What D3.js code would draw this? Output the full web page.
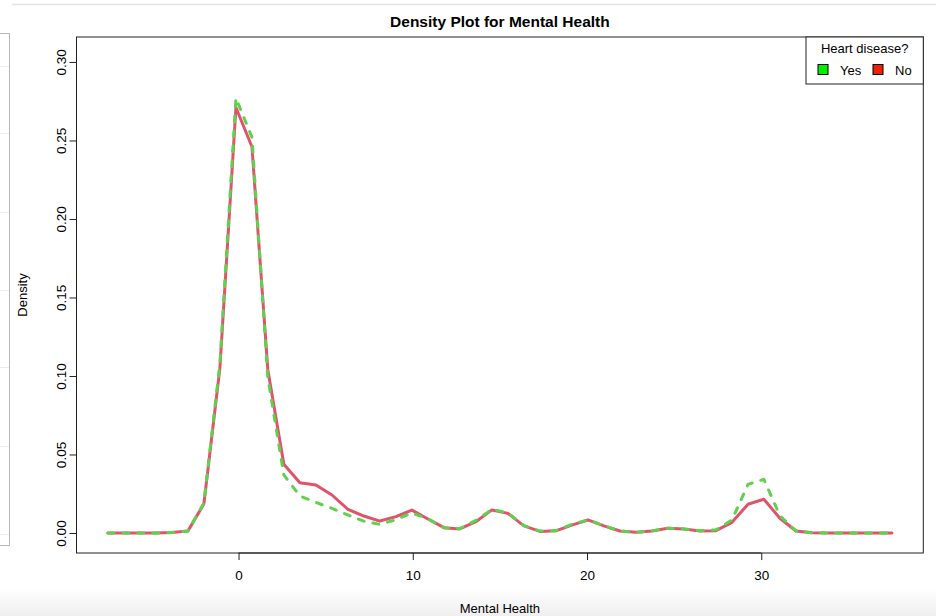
<!DOCTYPE html>
<html>
<head>
<meta charset="utf-8">
<script src="https://cdn.jsdelivr.net/npm/d3@7"></script>
<style>
  html, body { margin: 0; padding: 0; background: #fff; }
  svg { display: block; }
  text { font-family: "Liberation Sans", Arial, Helvetica, sans-serif; fill: #000; }
</style>
</head>
<body>
<svg id="chart" width="936" height="616"></svg>
<script>
// Evaluation grid of the kernel density estimate (days of poor mental health)
const mentalHealth = [
  -7.50, -6.58, -5.66, -4.75, -3.83, -2.91, -1.99, -1.07, -0.15, 0.77,
   1.68,  2.60,  3.52,  4.44,  5.36,  6.28,  7.19,  8.11,  9.03, 9.95,
  10.87, 11.79, 12.70, 13.62, 14.54, 15.46, 16.38, 17.30, 18.21, 19.13,
  20.05, 20.97, 21.89, 22.81, 23.72, 24.64, 25.56, 26.48, 27.40, 28.32,
  29.24, 30.15, 31.07, 31.99, 32.91, 33.83, 34.75, 35.66, 36.58, 37.50
];

// Density for respondents without heart disease
const densityNo = [
  0, 0, 0, 0, 0.0003, 0.0012, 0.0185, 0.105, 0.271, 0.246,
  0.104, 0.0438, 0.032, 0.0306, 0.0242, 0.0151, 0.0108, 0.0076, 0.0104, 0.0146,
  0.0089, 0.0034, 0.0026, 0.0072, 0.0147, 0.0125, 0.0045, 0.0010, 0.0014, 0.0050,
  0.0083, 0.0045, 0.0013, 0.0004, 0.0013, 0.0030, 0.0026, 0.0013, 0.0015, 0.0068,
  0.0183, 0.0215, 0.0094, 0.0013, 0.0002, 0, 0, 0, 0, 0
];

// Density for respondents with heart disease
const densityYes = [
  0, 0, 0, 0, 0.0003, 0.0012, 0.019, 0.108, 0.277, 0.252,
  0.099, 0.037, 0.0236, 0.0195, 0.0157, 0.0115, 0.0075, 0.0055, 0.0085, 0.0128,
  0.0090, 0.0034, 0.0028, 0.0080, 0.0150, 0.0128, 0.0047, 0.0012, 0.0015, 0.0055,
  0.0083, 0.0047, 0.0013, 0.0004, 0.0013, 0.0030, 0.0026, 0.0015, 0.0020, 0.0083,
  0.0310, 0.0342, 0.0110, 0.0013, 0.0002, 0, 0, 0, 0, 0
];

const xTicks = [0, 10, 20, 30];
const yTicks = [0, 0.05, 0.10, 0.15, 0.20, 0.25, 0.30];
const legendLabels = ["Yes", "No"];

const svg = d3.select("#chart");
const W = 936, H = 616;

// --- surrounding window chrome ---
const defs = svg.append("defs");
const grad = defs.append("linearGradient").attr("id", "fade")
  .attr("x1", 0).attr("y1", 0).attr("x2", 0).attr("y2", 1);
grad.append("stop").attr("offset", "0%").attr("stop-color", "#ffffff");
grad.append("stop").attr("offset", "100%").attr("stop-color", "#efefef");
svg.append("rect").attr("x", 0).attr("y", 588).attr("width", W).attr("height", 28)
  .attr("fill", "url(#fade)");
svg.append("line").attr("x1", 12).attr("x2", W).attr("y1", 4.5).attr("y2", 4.5)
  .attr("stroke", "#dfe5e8").attr("stroke-width", 1.5);
const side = svg.append("g");
side.append("rect").attr("x", -2).attr("y", 33.5).attr("width", 11.5).attr("height", 512)
  .attr("fill", "#fff").attr("stroke", "#b8b8b8").attr("stroke-width", 1);
[66, 133, 212, 290, 367, 446, 534].forEach(v => {
  side.append("line").attr("x1", 0).attr("x2", 9).attr("y1", v + 0.5).attr("y2", v + 0.5)
    .attr("stroke", "#ececec");
});

// --- plot region ---
const pLeft = 76.5, pRight = 923.3, pTop = 37, pBottom = 553;
const x = d3.scaleLinear().domain([-9.3, 39.3]).range([pLeft, pRight]);
const y = d3.scaleLinear().domain([-0.01274, 0.3159]).range([pBottom, pTop]);

const colNo = "#DF536B", colYes = "#61D04F";

const line = d3.line()
  .x((d, i) => x(mentalHealth[i]))
  .y(d => y(d));

svg.append("path").datum(densityNo)
  .attr("d", line).attr("fill", "none")
  .attr("stroke", colNo).attr("stroke-width", 3)
  .attr("stroke-linejoin", "round").attr("stroke-linecap", "round");

svg.append("path").datum(densityYes)
  .attr("d", line).attr("fill", "none")
  .attr("stroke", colYes).attr("stroke-width", 3)
  .attr("stroke-dasharray", "6,9")
  .attr("stroke-linejoin", "round").attr("stroke-linecap", "round");

// box
svg.append("rect").attr("x", pLeft).attr("y", pTop)
  .attr("width", pRight - pLeft).attr("height", pBottom - pTop)
  .attr("fill", "none").attr("stroke", "#222").attr("stroke-width", 1);

// x axis
const xAxis = d3.axisBottom(x).tickValues(xTicks).tickSize(7).tickPadding(10)
  .tickFormat(d3.format("d"));
const gx = svg.append("g").attr("transform", `translate(0,${pBottom})`).call(xAxis);
gx.select(".domain").attr("d", `M${x(xTicks[0])},0H${x(xTicks[xTicks.length - 1])}`)
  .attr("stroke", "#222");
gx.selectAll(".tick line").attr("stroke", "#222");
gx.selectAll(".tick text").attr("font-size", "13.5px").attr("fill", "#000")
  .attr("font-family", "'Liberation Sans', Arial, sans-serif");

// y axis
const yAxis = d3.axisLeft(y).tickValues(yTicks).tickSize(7).tickFormat(d3.format(".2f"));
const gy = svg.append("g").attr("transform", `translate(${pLeft},0)`).call(yAxis);
gy.select(".domain").attr("d", `M0,${y(yTicks[0])}V${y(yTicks[yTicks.length - 1])}`)
  .attr("stroke", "#222");
gy.selectAll(".tick line").attr("stroke", "#222");
gy.selectAll(".tick text")
  .attr("font-size", "13.5px").attr("fill", "#000")
  .attr("font-family", "'Liberation Sans', Arial, sans-serif")
  .attr("x", null).attr("dy", null)
  .attr("text-anchor", "middle")
  .attr("transform", "translate(-10.5,0) rotate(-90)");

// titles
svg.append("text").attr("x", (pLeft + pRight) / 2).attr("y", 27)
  .attr("text-anchor", "middle").attr("font-size", "15.5px").attr("font-weight", "bold")
  .text("Density Plot for Mental Health");
svg.append("text").attr("x", (pLeft + pRight) / 2).attr("y", 613)
  .attr("text-anchor", "middle").attr("font-size", "13px")
  .text("Mental Health");
svg.append("text")
  .attr("transform", `translate(27,${(pTop + pBottom) / 2}) rotate(-90)`)
  .attr("text-anchor", "middle").attr("font-size", "13px")
  .text("Density");

// legend
const lg = svg.append("g");
const lgLeft = 806, lgTop = pTop, lgBottom = 84;
lg.append("rect").attr("x", lgLeft).attr("y", lgTop)
  .attr("width", pRight - lgLeft).attr("height", lgBottom - lgTop)
  .attr("fill", "#fff").attr("stroke", "#222").attr("stroke-width", 1);
lg.append("text").attr("x", (lgLeft + pRight) / 2).attr("y", 52.5)
  .attr("text-anchor", "middle").attr("font-size", "13px").text("Heart disease?");
const swatch = ["#00ee00", "#ee2200"];
const swatchX = [818, 873];
const labelX = [840, 895];
legendLabels.forEach((lab, i) => {
  lg.append("rect").attr("x", swatchX[i]).attr("y", 64.5).attr("width", 10).attr("height", 10)
    .attr("fill", swatch[i]).attr("stroke", "#000").attr("stroke-width", 1);
  lg.append("text").attr("x", labelX[i]).attr("y", 74.5)
    .attr("font-size", "13px").text(lab);
});
</script>
</body>
</html>
